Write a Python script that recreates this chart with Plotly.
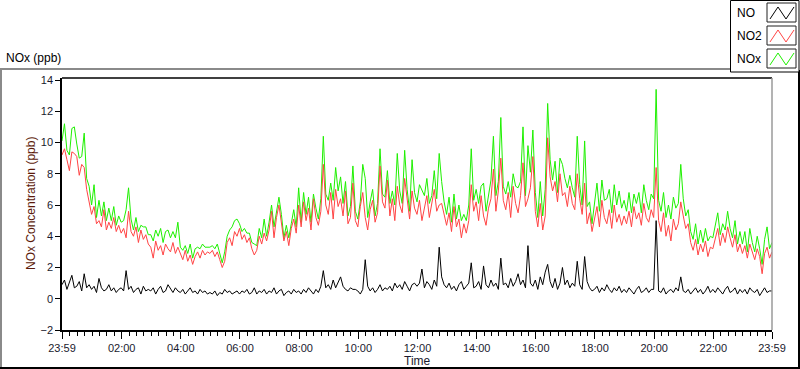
import pandas as pd
import plotly.graph_objects as go

# ---------------- data (5-minute readings, 23:59 -> 23:59 next day) ----------------
no2_ppb = [
    9.2, 9.6, 8.9, 8.2, 9.4, 9.3, 9.1, 7.9, 8.6, 8.4, 7.0, 6.3,
    5.4, 5.9, 4.8, 5.0, 4.6, 5.7, 4.4, 4.9, 4.5, 5.2, 4.3, 4.7,
    4.2, 4.5, 3.9, 5.6, 4.3, 4.0, 4.6, 3.6, 4.4, 3.8, 4.1, 3.5,
    3.3, 2.6, 3.7, 3.1, 3.4, 2.8, 3.5, 3.2, 3.0, 3.6, 2.9, 3.3,
    2.9, 2.5, 3.1, 2.4, 2.8, 2.2, 2.7, 3.0, 2.6, 3.1, 2.8, 3.0,
    2.9, 3.1, 2.7, 3.0, 2.5, 2.0, 2.4, 3.6, 3.9, 3.4, 4.3, 4.0,
    4.5, 3.8, 4.1, 3.6, 3.9, 3.2, 2.8, 3.1, 4.0, 3.5, 4.2, 3.7,
    4.4, 5.6, 3.9, 5.2, 6.0, 4.8, 3.7, 4.3, 3.4, 4.5, 5.1, 4.2,
    6.0, 4.6, 6.2, 5.0, 5.8, 4.4, 6.4, 5.2, 4.7, 5.6, 8.6, 6.0,
    5.4, 6.8, 5.1, 7.0, 5.9, 6.4, 5.3, 6.9, 4.8, 5.2, 7.4, 5.0,
    4.6, 5.9, 6.8, 5.2, 4.4, 5.7, 6.3, 4.9, 5.5, 8.5, 6.2, 5.8,
    7.6, 5.3, 6.4, 5.0, 7.2, 6.0, 5.5, 7.7, 6.2, 5.1, 6.9, 5.8,
    5.4, 6.3, 5.0, 5.9, 6.6, 5.2, 6.0, 7.0, 5.6, 6.0, 6.1, 5.3,
    4.7, 5.5, 4.3, 5.9, 4.6, 5.1, 3.9, 4.8, 4.2, 5.0, 7.3, 5.6,
    6.2, 5.0, 6.6, 5.3, 4.7, 5.8, 6.4, 8.3, 5.6, 6.9, 9.0, 6.3,
    5.7, 6.8, 5.2, 7.2, 6.1, 5.5, 6.6, 8.7, 5.9, 6.4, 7.1, 9.1,
    5.6, 4.6, 6.1, 4.4, 5.3, 10.3, 7.8, 6.9, 7.5, 6.2, 8.0, 6.6,
    6.8, 5.9, 7.2, 6.1, 5.7, 8.0, 6.4, 5.4, 7.4, 4.8, 5.5, 4.3,
    5.0, 5.9, 4.6, 6.3, 5.2, 4.8, 5.7, 4.5, 6.0, 4.9, 5.4, 4.7,
    5.3, 4.8, 5.6, 4.6, 5.9, 5.1, 5.5, 4.7, 6.1, 5.2, 4.9, 5.7,
    5.2, 8.4, 5.0, 4.3, 5.5, 4.0, 4.7, 3.7, 5.1, 4.4, 4.8, 6.2,
    5.3, 4.5, 4.8, 3.6, 3.1, 3.8, 2.8, 3.5, 3.0, 3.7, 2.7, 3.3,
    3.2, 3.9, 4.5, 3.4, 4.2, 3.6, 4.6, 3.9, 3.3, 4.1, 3.0, 3.5,
    2.9, 3.4, 2.6, 3.5, 3.0, 2.5, 3.2, 2.7, 1.6, 2.9, 3.3, 2.6,
    3.0,
]

no_ppb = [
    0.9, 1.2, 0.6, 1.0, 1.5, 0.7, 0.8, 1.1, 0.5, 1.6, 0.7, 0.9,
    0.6, 0.8, 0.4, 1.3, 0.7, 0.5, 0.6, 0.9, 0.5, 0.7, 0.4, 0.6,
    0.7, 0.5, 1.8, 0.6, 0.8, 0.4, 0.6, 0.7, 0.3, 0.8, 0.5, 0.6,
    0.5, 0.7, 0.3, 0.6, 0.8, 0.4, 0.5, 0.9, 0.6, 0.4, 0.7, 0.5,
    0.4, 0.6, 0.3, 0.5, 0.7, 0.4, 0.5, 0.3, 0.6, 0.4, 0.5, 0.3,
    0.4, 0.3, 0.5, 0.2, 0.4, 0.3, 0.6, 0.4, 0.5, 0.3, 0.4, 0.5,
    0.3, 0.5, 0.4, 0.6, 0.3, 0.4, 0.7, 0.3, 0.5, 0.4, 0.6, 0.3,
    0.5, 0.4, 0.7, 0.3, 0.5, 0.6, 0.2, 0.4, 0.5, 0.3, 0.6, 0.4,
    0.5, 0.3, 0.6, 0.4, 0.7, 0.5, 0.3, 0.6, 0.4, 0.8, 1.8, 0.7,
    0.9, 0.6, 1.2, 0.7, 1.0, 1.4, 0.8, 0.6, 0.5, 0.7, 0.6, 0.6,
    0.5, 0.3, 0.6, 2.5, 0.8, 0.5, 0.7, 0.4, 0.6, 0.9, 0.5, 0.7,
    0.6, 0.8, 0.5, 1.0, 0.7, 0.9, 0.6, 1.1, 0.8, 0.5, 0.9, 1.0,
    0.8, 1.0, 1.9, 0.7, 1.1, 0.9, 0.6, 1.2, 0.8, 3.3, 1.4, 0.9,
    0.7, 1.0, 0.6, 0.8, 0.5, 0.9, 1.1, 0.6, 0.8, 1.0, 2.3, 0.7,
    0.8, 1.1, 0.6, 2.1, 0.9, 0.7, 1.2, 0.8, 1.0, 0.6, 2.6, 0.9,
    1.0, 0.7, 1.3, 0.8, 1.1, 1.6, 0.9, 1.2, 0.7, 3.4, 1.0, 0.8,
    1.2, 0.6, 1.4, 0.9, 1.7, 2.2, 1.1, 0.7, 1.3, 0.6, 1.0, 2.0,
    0.9, 1.2, 0.7, 1.0, 0.8, 2.4, 0.9, 0.6, 2.7, 1.1, 0.7, 0.5,
    0.6, 0.8, 0.4, 0.7, 0.5, 0.9, 0.6, 0.4, 0.7, 0.5, 0.8, 0.4,
    0.6, 0.4, 0.7, 0.5, 0.3, 0.6, 0.8, 0.4, 0.5, 0.7, 0.4, 0.6,
    0.6, 5.0, 0.5, 0.4, 0.7, 0.3, 0.5, 0.6, 0.4, 0.7, 0.5, 1.4,
    0.5, 0.4, 0.6, 0.3, 0.5, 0.7, 0.4, 0.6, 0.3, 0.5, 0.8, 0.4,
    0.6, 0.4, 0.7, 0.5, 0.3, 0.6, 0.8, 0.4, 0.5, 0.7, 0.3, 0.6,
    0.4, 0.6, 0.3, 0.7, 0.5, 0.4, 0.6, 0.2, 0.5, 0.7, 0.4, 0.5,
    0.5,
]

nox_ppb = [
    10.1, 11.2, 9.5, 9.2, 10.9, 11.0, 9.9, 9.0, 9.1, 10.6, 7.7, 7.2,
    6.0, 7.3, 5.2, 6.3, 5.3, 6.2, 5.0, 5.8, 5.0, 5.9, 4.7, 5.3,
    4.9, 5.0, 5.7, 7.1, 5.1, 4.4, 5.2, 4.3, 4.7, 4.6, 4.6, 4.1,
    4.1, 3.7, 4.4, 4.0, 4.5, 3.6, 4.3, 4.4, 3.9, 4.3, 3.9, 4.9,
    3.3, 3.1, 3.4, 2.9, 3.5, 2.6, 3.2, 3.3, 3.2, 3.5, 3.3, 3.3,
    3.3, 3.4, 3.2, 3.5, 2.9, 2.3, 3.0, 4.0, 4.4, 4.6, 5.0, 5.1,
    4.8, 4.3, 4.5, 4.2, 4.2, 3.6, 3.5, 3.4, 4.5, 3.9, 5.1, 4.0,
    4.9, 6.0, 4.6, 5.5, 6.5, 5.4, 3.9, 4.7, 3.9, 4.8, 5.7, 4.6,
    7.1, 4.9, 6.8, 5.4, 6.5, 4.9, 6.7, 5.8, 5.1, 6.4, 10.4, 6.7,
    6.3, 7.4, 6.3, 8.4, 6.9, 7.8, 6.1, 7.5, 5.3, 5.9, 8.5, 5.6,
    5.1, 6.2, 8.6, 7.7, 5.2, 6.2, 7.0, 5.3, 6.1, 9.6, 6.7, 6.5,
    8.2, 6.1, 6.9, 6.0, 9.3, 6.9, 6.1, 9.5, 7.0, 5.6, 8.9, 6.8,
    6.2, 7.3, 6.9, 6.6, 7.7, 6.1, 6.6, 8.2, 6.4, 9.3, 7.5, 6.2,
    5.4, 6.5, 4.9, 6.7, 5.1, 6.0, 5.0, 5.4, 5.0, 6.0, 9.6, 6.3,
    7.0, 6.1, 7.2, 7.4, 5.6, 6.5, 7.6, 10.4, 6.6, 7.5, 11.6, 7.2,
    6.7, 7.5, 6.5, 8.0, 7.2, 7.1, 7.5, 11.0, 6.6, 9.8, 8.1, 10.8,
    6.8, 5.2, 7.5, 5.3, 7.0, 12.5, 8.9, 7.6, 8.8, 6.8, 9.0, 8.6,
    7.7, 7.1, 7.9, 7.1, 6.5, 10.4, 7.3, 6.0, 10.1, 5.9, 6.2, 4.8,
    6.2, 7.4, 5.6, 7.6, 6.3, 6.4, 7.0, 5.5, 7.3, 6.0, 6.9, 5.8,
    6.3, 5.6, 6.8, 5.5, 6.7, 6.1, 6.8, 5.5, 7.3, 6.3, 5.7, 6.7,
    6.4, 13.4, 6.3, 5.6, 6.8, 5.2, 6.0, 5.1, 6.5, 5.8, 6.1, 8.6,
    6.4, 5.3, 5.7, 4.3, 3.8, 4.8, 3.5, 4.4, 3.6, 4.5, 3.7, 4.0,
    3.9, 4.6, 5.5, 4.1, 4.8, 4.4, 5.6, 4.5, 3.9, 5.0, 3.5, 4.3,
    3.5, 4.3, 3.0, 4.5, 3.6, 3.0, 4.0, 3.2, 2.2, 3.8, 4.6, 3.2,
    3.6,
]

series_names = ["NO", "NO2", "NOx"]
x_tick_labels = ["23:59", "02:00", "04:00", "06:00", "08:00", "10:00", "12:00",
                 "14:00", "16:00", "18:00", "20:00", "22:00", "23:59"]
y_tick_values = [-2, 0, 2, 4, 6, 8, 10, 12, 14]

# ---------------- time axis ----------------
start = pd.Timestamp("2020-01-01 23:59")
end = start + pd.Timedelta(hours=24)
times = pd.date_range(start, periods=len(no2_ppb), freq="5min")
day = pd.Timestamp("2020-01-02")
tickvals = [start] + [day + pd.Timedelta(lab + ":00") for lab in x_tick_labels[1:-1]] + [end]
minor_vals = list(pd.date_range(day, end, freq="15min"))

# ---------------- figure ----------------
FONT = "Liberation Sans, Arial, sans-serif"
L, R, T, B = 62, 772, 78, 330  # plot area in pixels
W, H = 800, 369


def px(x):
    return (x - L) / (R - L)


def py(y):
    return (B - y) / (B - T)


fig = go.Figure()
fig.add_trace(go.Scatter(x=times, y=nox_ppb, mode="lines", name=series_names[2],
                         line=dict(color="#1ef000", width=1)))
fig.add_trace(go.Scatter(x=times, y=no2_ppb, mode="lines", name=series_names[1],
                         line=dict(color="#ff4444", width=1)))
fig.add_trace(go.Scatter(x=times, y=no_ppb, mode="lines", name=series_names[0],
                         line=dict(color="#000000", width=1)))

shapes = []
# outer frame (sunken look)
shapes.append(dict(type="line", xref="paper", yref="paper", x0=px(0), x1=px(731), y0=py(69), y1=py(69),
                   line=dict(color="#8a8a8a", width=2)))
shapes.append(dict(type="line", xref="paper", yref="paper", x0=px(1), x1=px(1), y0=py(69), y1=py(368),
                   line=dict(color="#8a8a8a", width=2)))
shapes.append(dict(type="line", xref="paper", yref="paper", x0=px(0), x1=px(800), y0=py(368), y1=py(368),
                   line=dict(color="#000000", width=2)))
shapes.append(dict(type="line", xref="paper", yref="paper", x0=px(799), x1=px(799), y0=py(70), y1=py(368),
                   line=dict(color="#000000", width=2)))
# plot border: top black, right gray
shapes.append(dict(type="line", xref="paper", yref="paper", x0=px(L), x1=px(R), y0=py(T), y1=py(T),
                   line=dict(color="#000000", width=1.5)))
shapes.append(dict(type="line", xref="paper", yref="paper", x0=px(R), x1=px(R), y0=py(T), y1=py(B),
                   line=dict(color="#9a9a9a", width=1.5)))
# legend box
shapes.append(dict(type="rect", xref="paper", yref="paper", x0=px(730.5), x1=px(799), y0=py(72), y1=py(0.5),
                   line=dict(color="#000000", width=1), fillcolor="white"))
legend_colors = ["#000000", "#ff4444", "#1ef000"]
annotations = []
for i, (name, col) in enumerate(zip(series_names, legend_colors)):
    top = 3 + 23 * i
    bot = top + 19
    shapes.append(dict(type="rect", xref="paper", yref="paper", x0=px(767), x1=px(796), y0=py(bot), y1=py(top),
                       line=dict(color="#202020", width=1), fillcolor="white"))
    pts = [(770, bot - 3), (778, top + 4), (786, bot - 3), (794, top + 4)]
    path = "M " + " L ".join(f"{px(a):.5f},{py(b):.5f}" for a, b in pts)
    shapes.append(dict(type="path", xref="paper", yref="paper", path=path, line=dict(color=col, width=1)))
    annotations.append(dict(text=name, xref="paper", yref="paper", x=px(735), y=py(top + 10),
                            xanchor="left", yanchor="middle", showarrow=False,
                            font=dict(family=FONT, size=12, color="#000000")))

annotations.append(dict(text="NOx (ppb)", xref="paper", yref="paper", x=px(4), y=py(58),
                        xanchor="left", yanchor="middle", showarrow=False,
                        font=dict(family=FONT, size=12, color="#000000")))
annotations.append(dict(text="NOx Concentration (ppb)", xref="paper", yref="paper", x=px(31), y=py(204),
                        xanchor="center", yanchor="middle", showarrow=False, textangle=-90,
                        font=dict(family=FONT, size=12, color="#5c1a0a")))
annotations.append(dict(text="Time", xref="paper", yref="paper", x=px(417), y=py(361),
                        xanchor="center", yanchor="middle", showarrow=False,
                        font=dict(family=FONT, size=12, color="#1a1a2e")))

fig.update_layout(
    width=W, height=H, autosize=False,
    margin=dict(l=L, r=W - R, t=T, b=H - B, pad=0),
    paper_bgcolor="white", plot_bgcolor="white",
    showlegend=False,
    shapes=shapes, annotations=annotations,
    xaxis=dict(
        range=[start, end], type="date",
        tickmode="array", tickvals=tickvals, ticktext=x_tick_labels,
        ticks="outside", ticklen=7, tickwidth=1, tickcolor="#000000",
        showline=True, linecolor="#000000", linewidth=1.5,
        showgrid=False, zeroline=False,
        tickfont=dict(family=FONT, size=11, color="#1a1a2e"),
        minor=dict(tickmode="array", tickvals=minor_vals, ticks="outside", ticklen=4,
                   tickcolor="#000000", tickwidth=1, showgrid=False),
    ),
    yaxis=dict(
        range=[-2, 14.128], tickmode="array", tickvals=y_tick_values,
        ticks="outside", ticklen=5, tickwidth=1, tickcolor="#000000",
        showline=True, linecolor="#000000", linewidth=1.5,
        showgrid=False, zeroline=False,
        tickfont=dict(family=FONT, size=11, color="#1a1a2e"),
    ),
)

fig.write_html(
    "out.html",
    config={"displayModeBar": False},
    post_script="document.body.style.margin='0px';document.body.style.overflow='hidden';",
)
